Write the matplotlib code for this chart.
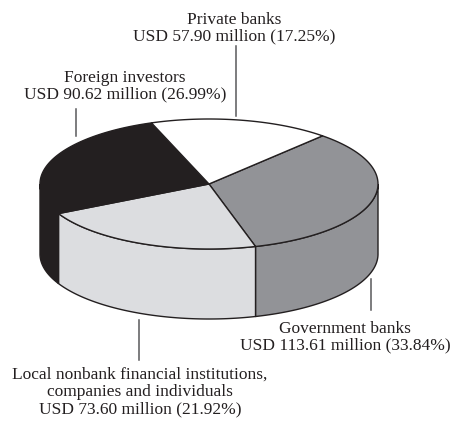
import numpy as np
import matplotlib
matplotlib.use('Agg')
import matplotlib.pyplot as plt
from matplotlib.patches import Polygon

plt.rcParams['font.family'] = ['Liberation Serif', 'DejaVu Serif']

# going clockwise from the private banks / government banks edge
names = ['Government banks', 'Local nonbank', 'Foreign investors', 'Private banks']
percents = [33.84, 21.92, 26.99, 17.25]
colors = ['#929397', '#dcdde0', '#231f20', '#ffffff']
labels = ['Government banks\nUSD 113.61 million (33.84%)',
          'Local nonbank financial institutions,\ncompanies and individuals\nUSD 73.60 million (21.92%)',
          'Foreign investors\nUSD 90.62 million (26.99%)',
          'Private banks\nUSD 57.90 million (17.25%)']

cx, cy, a, b, depth = 209, 184, 169, 65, 70
start = 47.8


def rim(t1, t2):
    t = np.radians(np.linspace(t1, t2, 200))
    return np.column_stack([cx + a * np.cos(t), cy - b * np.sin(t)])


fig = plt.figure(figsize=(4.53, 4.21), dpi=100)
ax = fig.add_axes([0, 0, 1, 1])
ax.set_xlim(0, 453)
ax.set_ylim(421, 0)
ax.axis('off')

angle = start
for p, c in zip(percents, colors):
    end = angle - p * 3.6
    # top slice
    pts = np.vstack([[cx, cy], rim(angle, end)])
    ax.add_patch(Polygon(pts, closed=True, fc=c, ec='#231f20', lw=1, zorder=3, joinstyle='round'))
    # side wall, only the front half of the rim can be seen
    s = min(angle, 0)
    e = max(end, -180)
    if s > e:
        top = rim(s, e)
        low = top[::-1] + [0, depth]
        ax.add_patch(Polygon(np.vstack([top, low]), closed=True, fc=c, ec='#231f20', lw=1, zorder=2))
    angle = end

# leader lines
ax.plot([236, 236], [46, 116], color='#58595b', lw=1.1, zorder=1)
ax.plot([76, 76], [109, 136], color='#58595b', lw=1.1, zorder=1)
ax.plot([371, 371], [279, 310], color='#58595b', lw=1.1, zorder=4)
ax.plot([139, 139], [320, 360], color='#58595b', lw=1.1, zorder=1)

fs = 12.5
tc = '#231f20'
ax.text(234, 28, labels[3], ha='center', va='center', fontsize=fs, color=tc, linespacing=1.08)
ax.text(125, 86, labels[2], ha='center', va='center', fontsize=fs, color=tc, linespacing=1.08)
ax.text(345, 337, labels[0], ha='center', va='center', fontsize=fs, color=tc, linespacing=1.08)
ax.text(140, 392, labels[1], ha='center', va='center', fontsize=fs, color=tc, linespacing=1.08)

fig.savefig('out.png', dpi=100)
